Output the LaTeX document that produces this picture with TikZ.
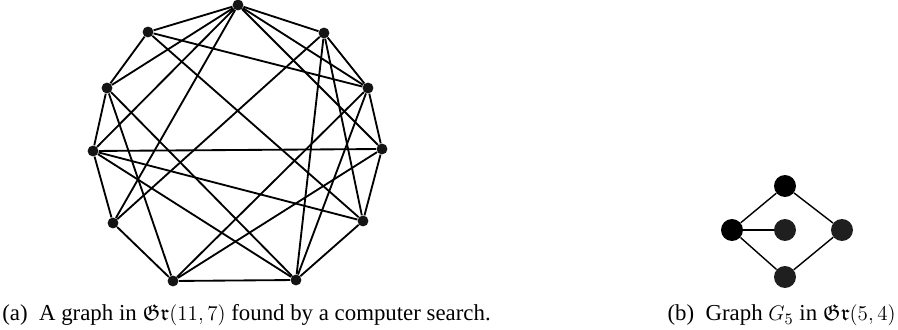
\documentclass[tikz,border=0pt]{standalone}
\usepackage{amsmath,amssymb}
\usepackage{fontspec}
\setmainfont{Liberation Serif}
\usepackage{tikz}

\begin{document}
\begin{tikzpicture}[
  x=0.02cm, y=-0.02cm,
  dot/.style={circle, fill=black!92, inner sep=0pt, minimum size=6.2pt},
  bigdot/.style={circle, fill=black!88, inner sep=0pt, minimum size=12.5pt},
  edge/.style={line width=1.05pt},
  thinedge/.style={line width=0.8pt},
  caption/.style={inner sep=0pt, font=\fontsize{13}{15}\selectfont}
]
\useasboundingbox (0,0) rectangle (898,330);
% graph (a)
\node[dot] (t)   at (238,5)   {};
\node[dot] (v1)  at (324,33)  {};
\node[dot] (v2)  at (368,88)  {};
\node[dot] (v3)  at (382,149) {};
\node[dot] (v4)  at (363,221) {};
\node[dot] (v5)  at (296,280) {};
\node[dot] (v6)  at (173,281) {};
\node[dot] (v7)  at (113,223) {};
\node[dot] (v8)  at (93,151)  {};
\node[dot] (v9)  at (107,88)  {};
\node[dot] (v10) at (148,32)  {};
\draw[edge] (t) -- (v1);
\draw[edge] (v1) -- (v2);
\draw[edge] (v2) -- (v3);
\draw[edge] (v3) -- (v4);
\draw[edge] (v4) -- (v5);
\draw[edge] (v5) -- (v6);
\draw[edge] (v6) -- (v7);
\draw[edge] (v7) -- (v8);
\draw[edge] (v8) -- (v9);
\draw[edge] (v9) -- (v10);
\draw[edge] (v10) -- (t);
\draw[edge] (t) -- (v9);
\draw[edge] (t) -- (v8);
\draw[edge] (t) -- (v7);
\draw[edge] (t) -- (v2);
\draw[edge] (t) -- (v3);
\draw[edge] (v1) -- (v5);
\draw[edge] (v1) -- (v4);
\draw[edge] (v1) -- (v7);
\draw[edge] (v2) -- (v10);
\draw[edge] (v2) -- (v5);
\draw[edge] (v2) -- (v6);
\draw[edge] (v3) -- (v8);
\draw[edge] (v3) -- (v6);
\draw[edge] (v4) -- (v10);
\draw[edge] (v4) -- (v8);
\draw[edge] (v5) -- (v8);
\draw[edge] (v5) -- (v9);
\draw[edge] (v6) -- (v9);
% graph (b)
\node[bigdot, fill=black] (btop) at (785,186) {};
\node[bigdot, fill=black] (bl)   at (732,230) {};
\node[bigdot] (bm)   at (785,230) {};
\node[bigdot] (br)   at (842,230) {};
\node[bigdot] (bbot) at (785,277) {};
\draw[thinedge] (bl) -- (btop);
\draw[thinedge] (bl) -- (bm);
\draw[thinedge] (bl) -- (bbot);
\draw[thinedge] (btop) -- (br);
\draw[thinedge] (bbot) -- (br);
% captions
\node[caption, anchor=base west] (capa) at (2,321) {(a)\ \ A graph in $\mathfrak{Gr}(11,7)$ found by a computer search.};
\node[caption, anchor=base east] (capb) at (896,321) {(b)\ \ Graph $G_5$ in $\mathfrak{Gr}(5,4)$};
\end{tikzpicture}
\end{document}
